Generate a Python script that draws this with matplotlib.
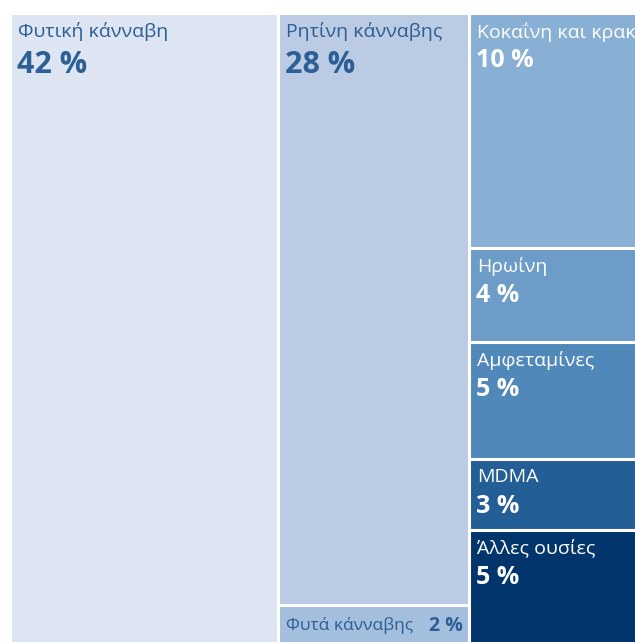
import matplotlib.pyplot as plt
from matplotlib.patches import Rectangle

plt.rcParams['font.family'] = ['Open Sans', 'DejaVu Sans']

# columns of the treemap (label, percent, fill colour, text colour)
col1_labels = ['Φυτική κάνναβη']
col1_values = [42]
col2_labels = ['Ρητίνη κάνναβης', 'Φυτά κάνναβης']
col2_values = [28, 2]
col3_labels = ['Κοκαΐνη και κρακ', 'Ηρωίνη', 'Αμφεταμίνες', 'MDMA', 'Άλλες ουσίες']
col3_values = [10, 4, 5, 3, 5]

columns = [
    (col1_labels, col1_values, ['#dde4f2'], ['#2b5f95']),
    (col2_labels, col2_values, ['#bacbe3', '#a4bedd'], ['#2b5f95', '#2b5f95']),
    (col3_labels, col3_values, ['#88afd4', '#6c9cc7', '#5089b9', '#245e97', '#02356b'],
     ['white'] * 5),
]

fig = plt.figure(figsize=(6.35, 6.42), dpi=100)
W, H = 635, 642
ax = fig.add_axes([10 / W, -5 / H, 631 / W, 634 / H])
total = sum(sum(c[1]) for c in columns)
ax.set_xlim(0, total)
ax.set_ylim(0, 1)
ax.axis('off')

px = 0.72  # points per pixel
x = 0
for labels, values, fills, tcols in columns:
    w = sum(values)
    top = 1.0
    for lab, v, fc, tc in zip(labels, values, fills, tcols):
        h = v / w
        ax.add_patch(Rectangle((x, top - h), w, h, facecolor=fc, edgecolor='white', lw=2.2))
        if v <= 2:
            ax.annotate(lab, (x, top - h / 2), xytext=(8 * px, 0), textcoords='offset points',
                        ha='left', va='center', fontsize=12.5, color=tc, annotation_clip=False)
            ax.annotate(f'{v} %', (x + w, top - h / 2), xytext=(-6 * px, 0), textcoords='offset points',
                        ha='right', va='center', fontsize=14, fontweight='bold', color=tc)
        else:
            big = x == 0 or lab == 'Ρητίνη κάνναβης'
            ax.annotate(lab, (x, top), xytext=(8 * px, -9 * px), textcoords='offset points',
                        ha='left', va='top', fontsize=14, color=tc, annotation_clip=False)
            ax.annotate(f'{v} %', (x, top), xytext=(7 * px, (-37 if big else -35) * px),
                        textcoords='offset points', ha='left', va='top',
                        fontsize=22 if big else 18, fontweight='bold', color=tc)
        top -= h
    x += w

fig.savefig('out.png', dpi=100)
